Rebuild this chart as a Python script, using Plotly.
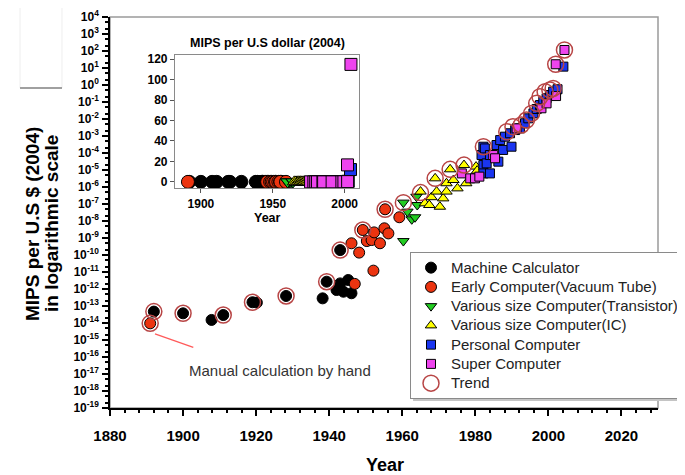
import plotly.graph_objects as go

# ---------------- data (year, log10 of MIPS per US$ 2004) ----------------
machine_year = [1892.0, 1900.0, 1907.8, 1911.0, 1919.0, 1920.2, 1928.2, 1938.2, 1939.3,
                1942.0, 1943.0, 1943.9, 1945.2, 1946.1, 1943.0]
machine_log = [-13.33, -13.43, -13.82, -13.53, -12.78, -12.80, -12.41, -12.55, -11.57,
               -12.06, -11.67, -12.16, -11.47, -12.25, -9.71]

vacuum_year = [1891.0, 1947.0, 1952.1, 1946.1, 1948.2, 1949.2, 1950.3, 1951.6, 1952.3,
               1953.9, 1955.1, 1956.2, 1955.3, 1959.2]
vacuum_log = [-14.02, -11.70, -10.92, -9.31, -9.86, -8.53, -9.18, -9.12, -8.67,
              -9.31, -8.43, -8.73, -7.31, -7.78]

transistor_year = [1960.3, 1961.4, 1962.6, 1963.5, 1960.3, 1963.9, 1964.1]
transistor_log = [-6.92, -7.45, -7.90, -7.78, -9.18, -6.57, -7.06]

ic_year = [1965.0, 1966.2, 1967.4, 1968.0, 1969.0, 1969.4, 1970.3, 1971.2, 1972.1, 1972.1,
           1973.1, 1974.0, 1975.1, 1976.9, 1977.5, 1980.2, 1980.5]
ic_log = [-6.27, -6.96, -7.06, -6.60, -5.49, -6.27, -7.16, -6.67, -6.27, -5.78,
          -4.96, -5.59, -6.08, -4.71, -5.78, -4.80, -5.04]

pc_year = [1981.7, 1982.2, 1982.2, 1982.2, 1982.6, 1983.1, 1984.0, 1984.0, 1985.8, 1986.3,
           1986.8, 1987.6, 1988.1, 1989.5, 1989.9, 1990.9, 1992.2, 1993.6, 1994.5, 1995.9,
           1996.8, 1997.7, 1998.6, 1999.5, 2000.4, 2001.3, 2002.5, 2004.1]
pc_log = [-4.12, -4.71, -5.20, -3.63, -3.73, -4.61, -4.12, -5.20, -3.53, -4.51,
          -3.24, -3.82, -3.04, -2.84, -3.63, -2.65, -2.55, -2.25, -1.96, -1.67,
          -1.41, -1.18, -0.98, -0.78, -0.59, -0.39, -0.25, 1.08]

super_year = [1976.3, 1978.6, 1979.9, 1981.1, 1984.9, 1985.4, 1991.3, 1998.1, 1999.5,
              2002.1, 2002.0, 2004.4]
super_log = [-5.20, -5.49, -5.49, -5.39, -4.12, -4.31, -2.55, -1.37, -1.08,
             -0.65, 1.22, 2.06]

trend_year = [1891.0, 1892.0, 1900.0, 1911.0, 1919.0, 1928.2, 1939.3, 1943.0, 1949.2,
              1955.3, 1960.3, 1965.0, 1969.0, 1973.1, 1976.9, 1982.2, 1988.6, 1990.3,
              1992.6, 1994.0, 1995.4, 1996.8, 1997.7, 1999.1, 2000.4, 2001.3, 2002.0, 2004.4]
trend_log = [-14.02, -13.33, -13.43, -13.53, -12.78, -12.41, -11.57, -9.71, -8.53,
             -7.31, -6.92, -6.33, -5.49, -4.96, -4.71, -3.63, -2.75, -2.45,
             -2.35, -2.06, -1.67, -1.08, -0.69, -0.39, -0.29, -0.20, 1.22, 2.06]

x_ticks = [1880, 1900, 1920, 1940, 1960, 1980, 2000, 2020]
y_exponents = list(range(-19, 5))
inset_x_ticks = [1900, 1950, 2000]
inset_y_ticks = [0, 20, 40, 60, 80, 100, 120]

series = [
    ("Machine Calculator", machine_year, machine_log, "circle", "#000000", 11, 13),
    ("Early Computer(Vacuum Tube)", vacuum_year, vacuum_log, "circle", "#ec3410", 11, 13),
    ("Various size Computer(Transistor)", transistor_year, transistor_log, "triangle-down", "#22cc22", 10, 12),
    ("Various size Computer(IC)", ic_year, ic_log, "triangle-up", "#ffff00", 10, 12),
    ("Personal Computer", pc_year, pc_log, "square", "#1a35f0", 9, 12),
    ("Super Computer", super_year, super_log, "square", "#ee44ee", 9, 12),
]

FONT = "Liberation Sans, Arial, sans-serif"

fig = go.Figure()
for name, yr, lg, sym, col, size, isize in series:
    vals = [10 ** v for v in lg]
    fig.add_trace(go.Scatter(
        x=yr, y=vals, mode="markers",
        name=f'<span style="font-size:15px">{name}</span>',
        marker=dict(symbol=sym, color=col, size=size, line=dict(color="#000", width=1)),
        xaxis="x", yaxis="y"))
    fig.add_trace(go.Scatter(
        x=yr, y=vals, mode="markers", showlegend=False,
        marker=dict(symbol=sym, color=col, size=isize, line=dict(color="#000", width=1)),
        xaxis="x2", yaxis="y2"))

fig.add_trace(go.Scatter(
    x=trend_year, y=[10 ** v for v in trend_log], mode="markers",
    name='<span style="font-size:15px">Trend</span>',
    marker=dict(symbol="circle-open", color="#b84545", size=16, line=dict(width=1.5)),
    xaxis="x", yaxis="y"))

# NOTE: the page body has an 8px margin; paper coords below are relative to the
# plot area which is placed at 110..658 x 17..408 on screen.
shapes = [
    dict(type="rect", xref="paper", yref="paper", x0=0, x1=1, y0=0, y1=1,
         line=dict(color="#9a9a9a", width=1.5), layer="below"),
    # legend shadow
    dict(type="rect", xref="paper", yref="paper", x0=0.553, x1=1.09, y0=0.018, y1=0.392,
         fillcolor="#c4c4c4", line=dict(width=0), layer="above"),
    # pointer line for manual calculation
    dict(type="line", xref="paper", yref="paper", x0=0.0821, y0=0.1893, x1=0.152, y1=0.1552,
         line=dict(color="#ff5a5a", width=1.3)),
    # faint artefact box top-left
    dict(type="rect", xref="paper", yref="paper", x0=-0.1642, x1=-0.0876, y0=0.8184, y1=1.03,
         line=dict(color="#eeeeee", width=1)),
    dict(type="line", xref="paper", yref="paper", x0=-0.1642, x1=-0.0876, y0=0.8184, y1=0.8184,
         line=dict(color="#a0a0a0", width=2)),
]

annotations = [
    dict(text="<b>MIPS per U.S $ (2004)</b>", xref="paper", yref="paper",
         x=(32 - 110) / 548, y=(408 - 224) / 391, textangle=-90, showarrow=False,
         font=dict(family=FONT, size=19, color="#000"), xanchor="center", yanchor="middle"),
    dict(text="<b>in logarithmic scale</b>", xref="paper", yref="paper",
         x=(51 - 110) / 548, y=(408 - 224) / 391, textangle=-90, showarrow=False,
         font=dict(family=FONT, size=19, color="#000"), xanchor="center", yanchor="middle"),
    dict(text="<b>Year</b>", xref="paper", yref="paper", x=(385 - 110) / 548, y=(408 - 465) / 391,
         showarrow=False, font=dict(family=FONT, size=18, color="#000"),
         xanchor="center", yanchor="middle"),
    dict(text="<b>MIPS per U.S dollar (2004)</b>", xref="paper", yref="paper",
         x=(267 - 110) / 548, y=(408 - 43) / 391, showarrow=False,
         font=dict(family=FONT, size=12.5, color="#000"), xanchor="center", yanchor="middle"),
    dict(text="<b>Year</b>", xref="paper", yref="paper",
         x=(267 - 110) / 548, y=(408 - 218) / 391, showarrow=False,
         font=dict(family=FONT, size=12.5, color="#000"), xanchor="center", yanchor="middle"),
    dict(text="Manual calculation by hand", xref="paper", yref="paper",
         x=(280 - 110) / 548, y=(408 - 370) / 391, showarrow=False,
         font=dict(family=FONT, size=15, color="#333333"), xanchor="center", yanchor="middle"),
]

fig.update_layout(
    width=685, height=475,
    margin=dict(l=102, r=35, t=9, b=75, autoexpand=False),
    paper_bgcolor="white", plot_bgcolor="white",
    font=dict(family=FONT, color="#000"),
    shapes=shapes, annotations=annotations,
    legend=dict(x=(410 - 110) / 548, y=(408 - 252) / 391, xanchor="left", yanchor="top",
                bgcolor="white", bordercolor="#8a8a8a", borderwidth=1,
                font=dict(family=FONT, size=12.5, color="#222")),
    xaxis=dict(domain=[0, 1], range=[1880, 2030], tickmode="array", tickvals=x_ticks,
               ticks="outside", ticklen=6, tickwidth=1.5, tickcolor="#000",
               showline=True, linecolor="#000", linewidth=1.5, showgrid=False, zeroline=False,
               tickfont=dict(family=FONT, size=15, weight="bold"), ticklabelstandoff=7,
               minor=dict(tick0=1880, dtick=4, ticks="outside", ticklen=3, tickcolor="#000")),
    yaxis=dict(domain=[0, 1], type="log", range=[-19, 4], tickmode="array",
               tickvals=[10 ** e for e in y_exponents],
               ticktext=[f"10<sup>{e}</sup>" for e in y_exponents],
               ticks="outside", ticklen=6, tickwidth=1.5, tickcolor="#000",
               showline=True, linecolor="#000", linewidth=1.5, showgrid=False, zeroline=False,
               tickfont=dict(family=FONT, size=12, weight="bold"), ticklabelstandoff=1,
               minor=dict(dtick="D2", ticks="outside", ticklen=3, tickcolor="#000")),
    xaxis2=dict(domain=[(175 - 110) / 548, (359 - 110) / 548], anchor="y2",
                range=[1882, 2010], tickmode="array", tickvals=inset_x_ticks,
                ticks="outside", ticklen=4, tickcolor="#555",
                showline=True, mirror=True, linecolor="#8a8a8a", linewidth=1.2,
                showgrid=False, zeroline=False,
                tickfont=dict(family=FONT, size=12, weight="bold")),
    yaxis2=dict(domain=[(408 - 188) / 391, (408 - 55) / 391], anchor="x2",
                range=[-6, 124], tickmode="array", tickvals=inset_y_ticks,
                ticks="outside", ticklen=4, tickcolor="#555",
                showline=True, mirror=True, linecolor="#8a8a8a", linewidth=1.2,
                showgrid=False, zeroline=False,
                tickfont=dict(family=FONT, size=12, weight="bold")),
)

fig.write_html("out.html")
